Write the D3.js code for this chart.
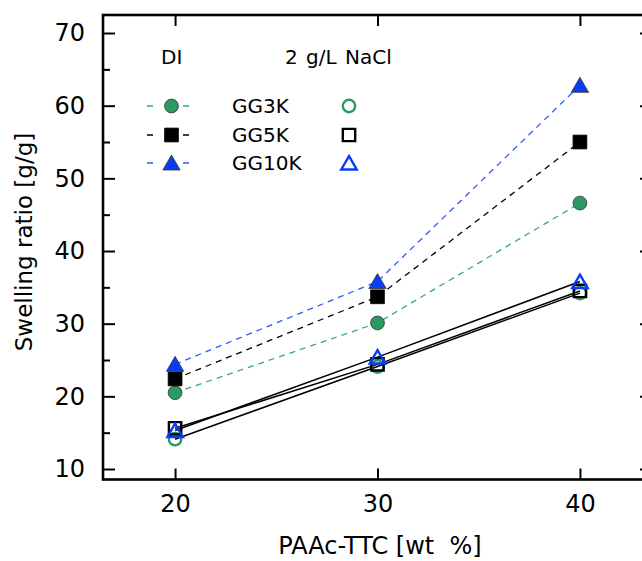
<!DOCTYPE html>
<html><head><meta charset="utf-8">
<script src="https://cdn.jsdelivr.net/npm/d3@7"></script>
<style>body{margin:0;background:#fff;} svg{display:block;font-family:"DejaVu Sans",sans-serif;}</style>
</head><body>
<svg id="c" width="642" height="561"></svg>
<script>
const xValues = [20, 30, 40];
const seriesNames = ["GG3K", "GG5K", "GG10K"];
const diValues = {
  GG3K: [20.5, 30.1, 46.6],
  GG5K: [22.4, 33.7, 55.0],
  GG10K: [24.4, 35.8, 62.8]
};
const naclValues = {
  GG3K: [14.1, 24.1, 34.2],
  GG5K: [15.6, 24.4, 34.5],
  GG10K: [15.3, 25.4, 35.8]
};
const xTicks = [20, 30, 40];
const yTicks = [10, 20, 30, 40, 50, 60, 70];
const yMinor = [15, 25, 35, 45, 55, 65];

const colors = {GG3K: "#2a9a62", GG5K: "#000000", GG10K: "#0a3cf5"};
const dashColors = {GG3K: "#3aaa72", GG5K: "#000000", GG10K: "#2a5cff"};
const shapes = {GG3K: d3.symbolCircle, GG5K: d3.symbolSquare, GG10K: d3.symbolTriangle};
const sizes = {GG3K: 150, GG5K: 190, GG10K: 130};

const L = 103, R = 652, T = 15, B = 479.5;
const x = d3.scaleLinear().domain([16.44, 43.56]).range([L, R]);
const y = d3.scaleLinear().domain([8.555, 72.48]).range([B, T]);

const svg = d3.select("#c");
const g = svg.append("g");

function styleAxis(sel){
  sel.select(".domain").remove();
  sel.selectAll("line").attr("stroke","#000").attr("stroke-width",2);
}
g.append("g").attr("transform",`translate(${L},0)`)
  .call(d3.axisLeft(y).tickValues(yTicks).tickSize(-12).tickPadding(18).tickFormat(d3.format("d")))
  .call(styleAxis)
  .call(s=>s.selectAll("text").attr("font-size",24).attr("fill","#000").attr("font-family","DejaVu Sans"));
g.append("g").attr("transform",`translate(${L},0)`)
  .call(d3.axisLeft(y).tickValues(yMinor).tickSize(-7).tickFormat(""))
  .call(styleAxis);
g.append("g").attr("transform",`translate(${R},0)`)
  .call(d3.axisRight(y).tickValues(yTicks).tickSize(-12).tickFormat(""))
  .call(styleAxis);
g.append("g").attr("transform",`translate(0,${B})`)
  .call(d3.axisBottom(x).tickValues(xTicks).tickSize(-11).tickPadding(15).tickFormat(d3.format("d")))
  .call(styleAxis)
  .call(s=>s.selectAll("text").attr("font-size",24).attr("fill","#000").attr("font-family","DejaVu Sans"));
g.append("g").attr("transform",`translate(0,${T})`)
  .call(d3.axisTop(x).tickValues(xTicks).tickSize(-11).tickFormat(""))
  .call(styleAxis);

g.append("rect").attr("x",L).attr("y",T).attr("width",R-L).attr("height",B-T)
  .attr("fill","none").attr("stroke","#000").attr("stroke-width",2.6);

const line = d3.line().x((d,i)=>x(xValues[i])).y(d=>y(d));

seriesNames.forEach(n=>{
  g.append("path").attr("d",line(naclValues[n])).attr("fill","none")
    .attr("stroke","#000").attr("stroke-width",1.5);
});
seriesNames.forEach(n=>{
  g.append("path").attr("d",line(diValues[n])).attr("fill","none")
    .attr("stroke",dashColors[n]).attr("stroke-width",1.3).attr("stroke-dasharray","6,5");
});

function marker(sel, n, filled, cx, cy){
  const sz = filled ? sizes[n] : sizes[n]*0.8;
  const off = n==="GG10K" ? 2 : 0;
  sel.append("path").attr("d",d3.symbol().type(shapes[n]).size(sz)())
    .attr("transform",`translate(${cx},${cy+off})`)
    .attr("fill", filled ? colors[n] : "none")
    .attr("stroke", filled ? (n==="GG5K"?"#000":"#333") : colors[n])
    .attr("stroke-width", filled ? 0.8 : 2.4);
}
seriesNames.forEach(n=>{
  naclValues[n].forEach((v,i)=>marker(g,n,false,x(xValues[i]),y(v)));
});
seriesNames.forEach(n=>{
  diValues[n].forEach((v,i)=>marker(g,n,true,x(xValues[i]),y(v)));
});

const leg = g.append("g");
leg.append("text").attr("x",161).attr("y",64).attr("font-size",20).text("DI");
leg.append("text").attr("x",285).attr("y",64).attr("font-size",20)
  .attr("word-spacing",2).text("2 g/L NaCl");
const legY = [106, 135, 163];
seriesNames.forEach((n,i)=>{
  leg.append("line").attr("x1",147).attr("x2",189).attr("y1",legY[i]).attr("y2",legY[i])
    .attr("stroke",dashColors[n]).attr("stroke-width",1.3).attr("stroke-dasharray","6,30");
  marker(leg,n,true,171.5,legY[i]);
  marker(leg,n,false,349,legY[i]);
  leg.append("text").attr("x",232).attr("y",legY[i]+7).attr("font-size",20).text(n);
});

svg.append("text").attr("x",380).attr("y",554).attr("text-anchor","middle")
  .attr("font-size",24).attr("xml:space","preserve").text("PAAc-TTC [wt  %]");
svg.append("text").attr("transform","translate(32,242) rotate(-90)").attr("text-anchor","middle")
  .attr("font-size",23).text("Swelling ratio [g/g]");
</script>
</body></html>
